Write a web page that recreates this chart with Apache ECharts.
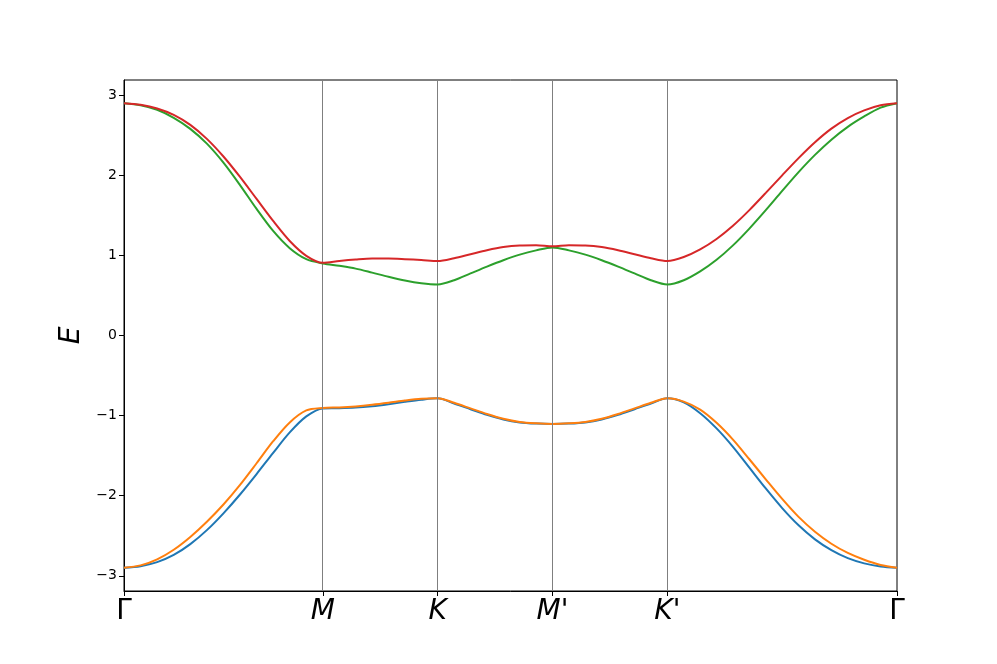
<!DOCTYPE html>
<html>
<head>
<meta charset="utf-8">
<script src="https://cdn.jsdelivr.net/npm/echarts@6/dist/echarts.min.js"></script>
<style>
html,body{margin:0;padding:0;background:#fff;}
#c{width:997px;height:664px;}
</style>
</head>
<body>
<div id="c"></div>
<script>
// High-symmetry points (path length, in units of |MK|)
const nodePos = [0, 1.7321, 2.7321, 3.7321, 4.7321, 6.7321];
const nodeLabels = ['Γ', 'M', 'K', "M'", "K'", 'Γ'];
const yTicks = [-3, -2, -1, 0, 1, 2, 3];

// k-path sample positions
const kx = [
  0, 0.1443, 0.2887, 0.433, 0.5774, 0.7217, 0.866, 1.0104, 1.1547, 1.299, 1.4434, 1.5877, 1.7321,
  1.875, 2.0178, 2.1607, 2.3035, 2.4464, 2.5892, 2.7321,
  2.875, 3.0178, 3.1607, 3.3035, 3.4464, 3.5892, 3.7321,
  3.875, 4.0178, 4.1607, 4.3035, 4.4464, 4.5892, 4.7321,
  4.875, 5.0178, 5.1607, 5.3035, 5.4464, 5.5892, 5.7321, 5.875, 6.0178, 6.1607, 6.3035, 6.4464, 6.5892, 6.7321
];

// band energies
const band1 = [
  -2.90, -2.88, -2.83, -2.74, -2.605, -2.43, -2.22, -1.985, -1.73, -1.465, -1.21, -1.01, -0.91,
  -0.908, -0.90, -0.882, -0.857, -0.828, -0.802, -0.785,
  -0.85, -0.92, -0.99, -1.048, -1.085, -1.10, -1.106,
  -1.10, -1.085, -1.048, -0.99, -0.92, -0.85, -0.785,
  -0.835, -0.97, -1.16, -1.39, -1.65, -1.91, -2.155, -2.37, -2.545, -2.68, -2.78, -2.845, -2.885, -2.90
];
const band2 = [
  -2.90, -2.87, -2.795, -2.675, -2.515, -2.325, -2.11, -1.865, -1.595, -1.32, -1.085, -0.935, -0.905,
  -0.898, -0.885, -0.865, -0.84, -0.812, -0.79, -0.783,
  -0.84, -0.91, -0.98, -1.04, -1.08, -1.097, -1.105,
  -1.097, -1.08, -1.04, -0.98, -0.91, -0.84, -0.783,
  -0.825, -0.925, -1.09, -1.30, -1.545, -1.795, -2.04, -2.265, -2.45, -2.60, -2.715, -2.80, -2.865, -2.90
];
const band3 = [
  2.90, 2.875, 2.818, 2.718, 2.58, 2.395, 2.158, 1.878, 1.58, 1.305, 1.09, 0.953, 0.90,
  0.87, 0.835, 0.785, 0.733, 0.686, 0.652, 0.637,
  0.69, 0.775, 0.86, 0.94, 1.01, 1.063, 1.10,
  1.063, 1.01, 0.94, 0.86, 0.775, 0.69, 0.637,
  0.69, 0.80, 0.945, 1.125, 1.335, 1.565, 1.805, 2.04, 2.255, 2.445, 2.605, 2.735, 2.845, 2.90
];
const band4 = [
  2.90, 2.88, 2.835, 2.755, 2.63, 2.455, 2.235, 1.98, 1.705, 1.43, 1.18, 0.995, 0.908,
  0.93, 0.948, 0.96, 0.96, 0.953, 0.943, 0.93,
  0.965, 1.015, 1.065, 1.105, 1.125, 1.128, 1.115,
  1.128, 1.125, 1.105, 1.065, 1.015, 0.965, 0.93,
  0.98, 1.075, 1.205, 1.37, 1.565, 1.78, 2.0, 2.215, 2.413, 2.583, 2.715, 2.81, 2.874, 2.90
];

const bands = [band1, band2, band3, band4];
const colors = ['#1f77b4', '#ff7f0e', '#2ca02c', '#d62728'];

const chart = echarts.init(document.getElementById('c'), null, {renderer: 'canvas'});

function nodeLabel(v) {
  let best = 0, bd = Infinity;
  nodePos.forEach((p, i) => { const d = Math.abs(p - v); if (d < bd) { bd = d; best = i; } });
  const t = nodeLabels[best];
  return t === 'Γ' ? '{g|Γ}' : '{i|' + t + '}';
}

const series = bands.map((b, i) => ({
  type: 'line',
  data: kx.map((x, j) => [x, b[j]]),
  showSymbol: false,
  smooth: 0.3,
  lineStyle: {color: colors[i], width: 2},
  itemStyle: {color: colors[i]},
  z: 3 + i
}));

series.unshift({
  type: 'line',
  data: [],
  z: 2,
  markLine: {
    silent: true,
    symbol: 'none',
    animation: false,
    label: {show: false},
    lineStyle: {color: '#7f7f7f', width: 1, type: 'solid'},
    data: nodePos.slice(1, 5).map(p => ({xAxis: p}))
  }
});

chart.setOption({
  animation: false,
  backgroundColor: '#ffffff',
  grid: {left: 124, right: 100, top: 80, bottom: 73, show: true, borderColor: '#000', borderWidth: 1, backgroundColor: 'transparent'},
  xAxis: {
    type: 'value', min: 0, max: 6.7321,
    axisLine: {show: true, onZero: false, lineStyle: {color: '#000', width: 1}},
    axisTick: {show: true, customValues: nodePos, length: 5, lineStyle: {color: '#000'}},
    splitLine: {show: false},
    axisLabel: {
      customValues: nodePos,
      margin: 7,
      formatter: nodeLabel,
      rich: {
        g: {fontFamily: 'DejaVu Sans', fontSize: 28, color: '#000'},
        i: {fontFamily: 'DejaVu Sans', fontSize: 28, fontStyle: 'italic', color: '#000'}
      }
    }
  },
  yAxis: {
    type: 'value', min: -3.19, max: 3.19,
    name: 'E', nameLocation: 'middle', nameGap: 29,
    nameTextStyle: {fontFamily: 'DejaVu Sans', fontSize: 28, fontStyle: 'italic', color: '#000'},
    axisLine: {show: true, onZero: false, lineStyle: {color: '#000', width: 1}},
    axisTick: {show: true, customValues: yTicks, length: 5, lineStyle: {color: '#000'}},
    splitLine: {show: false},
    axisLabel: {
      customValues: yTicks,
      margin: 7,
      fontFamily: 'DejaVu Sans', fontSize: 14, color: '#000',
      formatter: v => (v < 0 ? '\u2212' + Math.abs(v) : String(v))
    }
  },
  series: series
});
</script>
</body>
</html>
